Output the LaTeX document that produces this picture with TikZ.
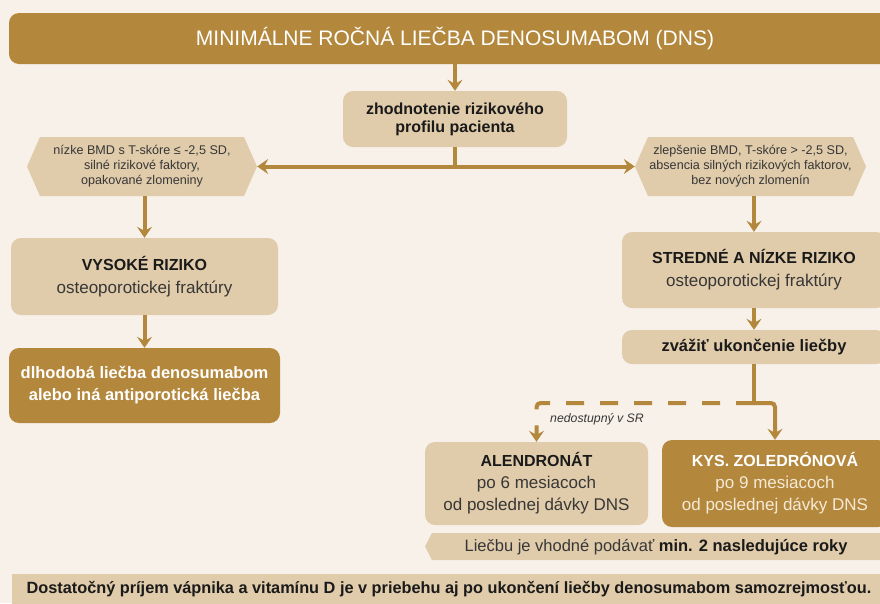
\documentclass[tikz,border=0pt]{standalone}
\usepackage{fontspec}
\setmainfont{Liberation Sans}
\usetikzlibrary{arrows.meta}
\definecolor{gold}{RGB}{179,135,60}
\definecolor{sand}{RGB}{224,203,170}
\definecolor{paper}{RGB}{247,241,234}
\definecolor{ink}{RGB}{26,26,26}
\definecolor{greyink}{RGB}{55,55,55}
\definecolor{cream}{RGB}{246,234,214}
\begin{document}
\begin{tikzpicture}[x=1pt,y=-1pt,
  lightbox/.style={fill=sand, rounded corners=10pt, inner sep=0pt, align=center, text=ink},
  darkbox/.style={fill=gold, rounded corners=10pt, inner sep=0pt, align=center, text=white},
  hextext/.style={inner sep=0pt, align=center, text=greyink, font=\fontsize{12.6}{15}\selectfont},
  conn/.style={draw=gold, line width=4pt},
  arr/.style={conn, -{Stealth[length=11pt,width=15pt,inset=4pt]}},
  dashconn/.style={dash pattern=on 18pt off 16pt}]
\fill[paper] (0,0) rectangle (880,603);
\useasboundingbox (0,0) rectangle (880,603);
\clip (0,0) rectangle (880,603);

% title
\node[darkbox, minimum width=892pt, minimum height=51pt, font=\fontsize{21}{25}\selectfont] (title) at (455,38.5) {MINIMÁLNE ROČNÁ LIEČBA DENOSUMABOM (DNS)};

% evaluation
\node[lightbox, minimum width=224pt, minimum height=56pt, font=\fontsize{16}{18}\selectfont\bfseries] (ev) at (455,119) {zhodnotenie rizikového\\profilu pacienta};

% hexagons
\fill[sand] (27,166.5) -- (40,137) -- (244,137) -- (257,166.5) -- (244,196) -- (40,196) -- cycle;
\node[hextext, minimum width=230pt, minimum height=59pt] (lh) at (142,166.5) {nízke BMD s T-skóre ≤ -2,5 SD,\\silné rizikové faktory,\\opakované zlomeniny};
\fill[sand] (635,166.5) -- (648,137) -- (853,137) -- (866,166.5) -- (853,196) -- (648,196) -- cycle;
\node[hextext, minimum width=231pt, minimum height=59pt] (rh) at (750.5,166.5) {zlepšenie BMD, T-skóre > -2,5 SD,\\absencia silných rizikových faktorov,\\bez nových zlomenín};

% left branch
\node[lightbox, minimum width=267pt, minimum height=77pt, font=\fontsize{17}{23}\selectfont, text=greyink] (vr) at (144.5,276.5) {\textcolor{ink}{\fontsize{16}{23}\selectfont\bfseries VYSOKÉ RIZIKO}\\osteoporotickej fraktúry};
\node[darkbox, minimum width=271pt, minimum height=75pt, font=\fontsize{16.5}{22}\selectfont\bfseries] (dl) at (144.5,385.5) {dlhodobá liečba denosumabom\\alebo iná antiporotická liečba};

% right branch
\node[lightbox, minimum width=264pt, minimum height=76pt, font=\fontsize{17}{23}\selectfont, text=greyink] (sr) at (754,270) {\textcolor{ink}{\fontsize{16}{23}\selectfont\bfseries STREDNÉ A NÍZKE RIZIKO}\\osteoporotickej fraktúry};
\node[lightbox, minimum width=264pt, minimum height=34pt, font=\fontsize{16.5}{20}\selectfont\bfseries] (zv) at (754,347) {zvážiť ukončenie liečby};
\coordinate (j2) at (754,403);

\node[lightbox, minimum width=223pt, minimum height=83pt, font=\fontsize{17}{22}\selectfont, text=greyink] (al) at (536.5,483.5) {\textcolor{ink}{\fontsize{16}{22}\selectfont\bfseries ALENDRONÁT}\\po 6 mesiacoch\\od poslednej dávky DNS};
\node[darkbox, minimum width=226pt, minimum height=87pt, font=\fontsize{17}{22}\selectfont, text=cream] (kz) at (775,483.5) {\textcolor{white}{\fontsize{16}{22}\selectfont\bfseries KYS. ZOLEDRÓNOVÁ}\\po 9 mesiacoch\\od poslednej dávky DNS};
\node[font=\fontsize{12.3}{14}\selectfont\itshape, text=greyink, inner sep=0pt] (ns) at (597,419) {nedostupný v SR};

% banner
\fill[sand] (425,546.5) -- (432,533) -- (890,533) -- (890,560) -- (432,560) -- cycle;
\node[font=\fontsize{16.5}{20}\selectfont, text=greyink, inner sep=0pt] (lb) at (656,547) {Liečbu je vhodné podávať \textcolor{ink}{\bfseries min. 2 nasledujúce roky}};

% bottom
\fill[sand] (12,574) rectangle (890,610);
\node[font=\fontsize{16.3}{20}\selectfont\bfseries, text=ink, inner sep=0pt] (bt) at (449,589) {Dostatočný príjem vápnika a vitamínu D je v priebehu aj po ukončení liečby denosumabom samozrejmosťou.};

% connectors
\coordinate (j1) at (455,166.5);
\draw[arr] (title.south -| ev.north) -- (ev.north);
\draw[conn] (ev.south) -- (j1);
\draw[arr] (j1) -- (lh.east);
\draw[arr] (j1) -- (rh.west);
\draw[arr] (vr.north |- lh.south) -- (vr.north);
\draw[arr] (vr.south) -- (dl.north);
\draw[arr] (sr.north |- rh.south) -- (sr.north);
\draw[arr] (sr.south) -- (zv.north);
\draw[conn] (zv.south) -- (j2);
\draw[arr, rounded corners=4pt] (j2) -| (kz.north);
\draw[arr, dashconn, rounded corners=4pt] (j2) -| (al.north);
\end{tikzpicture}
\end{document}
